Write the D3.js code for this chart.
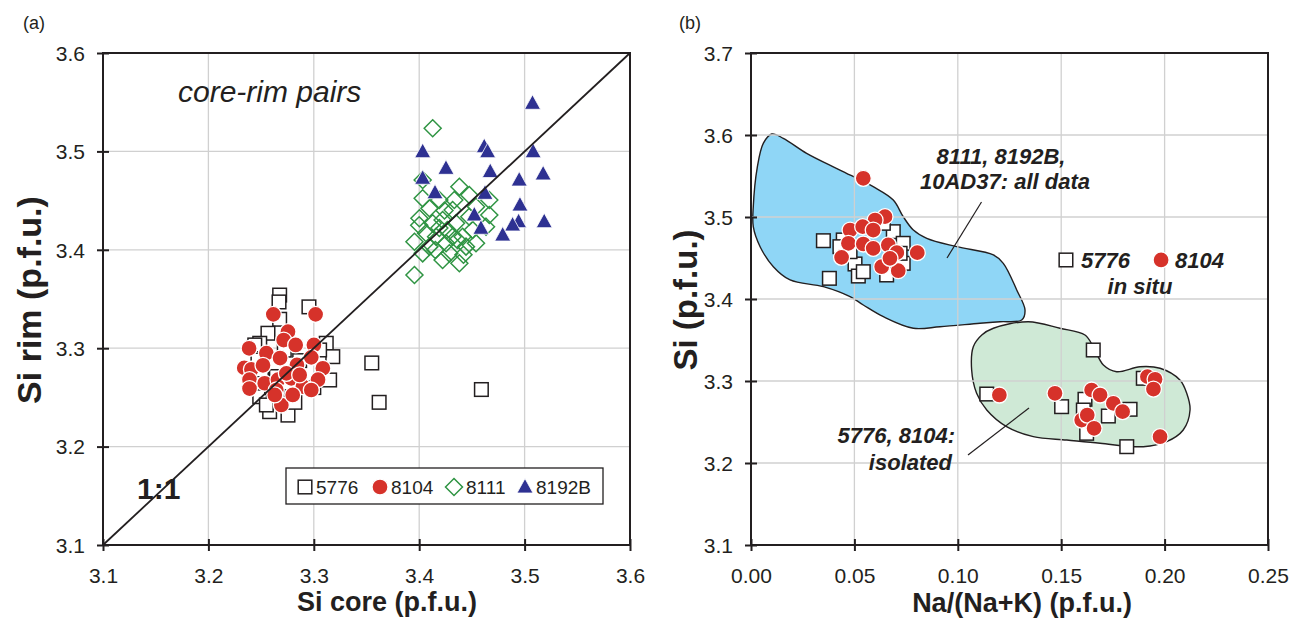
<!DOCTYPE html>
<html><head><meta charset="utf-8">
<script src="https://cdn.jsdelivr.net/npm/d3@7"></script>
<style>
html,body{margin:0;padding:0;background:#fff;}
svg text{font-family:"Liberation Sans",Arial,sans-serif;fill:#231f20;}
svg .tick text{font-size:21px;}
</style></head>
<body><svg id="c" width="1304" height="624"></svg>
<script>
// ---------- Panel (a) data: [Si core, Si rim] ----------
const a5776 = [[3.2676,3.354],[3.267,3.347],[3.2954,3.342],[3.2676,3.3294],[3.2565,3.3152],[3.2487,3.305],
 [3.3118,3.305],[3.318,3.2914],[3.315,3.2677],[3.2581,3.2355],[3.2755,3.232],[3.2487,3.2507],[3.255,3.2423],
 [3.244,3.3033],[3.2786,3.2507],[3.3055,3.2982],[3.2866,3.2874],[3.2503,3.2779],[3.2645,3.2712],[3.2470,3.2880],
 [3.2720,3.2980],[3.3000,3.2600],[3.2600,3.2600],[3.2820,3.2450],
 [3.355,3.285],[3.362,3.245],[3.459,3.258]];
const a8104 = [[3.2616,3.3344],[3.3017,3.3344],[3.2755,3.3168],[3.2714,3.3083],[3.2828,3.3033],[3.2386,3.2999],
 [3.3001,3.3033],[3.255,3.295],[3.268,3.290],[3.2976,3.2907],[3.234,3.280],[3.2408,3.2786],[3.2518,3.2826],
 [3.284,3.283],[3.3086,3.2796],[3.239,3.268],[3.2534,3.2644],[3.266,3.268],[3.2786,3.2694],[3.304,3.268],
 [3.2897,3.261],[3.239,3.259],[3.2644,3.2575],[3.2976,3.2575],[3.2692,3.2423],[3.263,3.2525],[3.280,3.2525],
 [3.274,3.2744],[3.2866,3.2728]];
const a8111 = [[3.4128,3.5235],[3.3955,3.3744],[3.4381,3.4641],[3.4665,3.4506],[3.4665,3.4354],[3.4033,3.4523],
 [3.4097,3.4422],[3.4002,3.4320],[3.3955,3.4082],[3.4191,3.4506],[3.4317,3.4405],[3.4222,3.4303],[3.4349,3.4269],
 [3.4475,3.4336],[3.4507,3.4201],[3.4444,3.4032],[3.4381,3.3863],[3.4222,3.3896],[3.4097,3.4032],[3.4065,3.4168],
 [3.4160,3.4133],[3.4255,3.4066],[3.4317,3.4133],[3.4412,3.4133],[3.4286,3.3964],[3.4033,3.3964],[3.4128,3.4269],
 [3.4539,3.4066],[3.4539,3.4438],[3.4634,3.4235],[3.4033,3.4709],[3.4267,3.4201],[3.4191,3.4222],[3.4362,3.4100],
 [3.4153,3.3998],[3.4333,3.4506],[3.4475,3.4557],[3.4000,3.4250],[3.4420,3.3950],[3.4240,3.4400]];
const a8192B = [[3.5075,3.5489],[3.4033,3.4997],[3.4617,3.5048],[3.4649,3.4997],[3.5081,3.4997],[3.4254,3.4828],
 [3.4674,3.4795],[3.4033,3.4727],[3.5176,3.4771],[3.4949,3.4709],[3.415,3.458],[3.4624,3.4574],[3.4956,3.4455],
 [3.4523,3.4354],[3.4943,3.4286],[3.4886,3.4252],[3.5186,3.4286],[3.4586,3.4219],[3.4792,3.415]];
const aTicks = [3.1,3.2,3.3,3.4,3.5,3.6];
const legendItems = [["5776","square"],["8104","circle"],["8111","diamond"],["8192B","triangle"]];

// ---------- Panel (b) data: [Na/(Na+K), Si] ----------
const blueField = [[0.0011,3.5126],[0.0030,3.5600],[0.0060,3.5900],[0.0100,3.6012],[0.0156,3.5960],[0.0269,3.5777],
 [0.0430,3.5573],[0.0591,3.5370],[0.0688,3.5207],[0.0736,3.5004],[0.0785,3.4841],[0.0850,3.4740],[0.0995,3.4638],
 [0.1172,3.4537],[0.1220,3.4435],[0.1285,3.4110],[0.1325,3.3866],[0.1309,3.3744],[0.1204,3.3723],[0.1107,3.3704],
 [0.0914,3.3662],[0.0785,3.3643],[0.0640,3.3784],[0.0543,3.3927],[0.0479,3.4028],[0.0350,3.4150],[0.0189,3.4232],
 [0.0108,3.4394],[0.0044,3.4638],[0.0011,3.4882]];
const greenField = [[0.1172,3.3643],[0.1341,3.3723],[0.1494,3.3643],[0.1615,3.3561],[0.1655,3.3418],[0.1704,3.3195],
 [0.1768,3.3113],[0.1881,3.3174],[0.1978,3.3155],[0.2074,3.3012],[0.2107,3.2850],[0.2123,3.2646],[0.2090,3.2402],
 [0.2010,3.2260],[0.1897,3.2199],[0.1688,3.2240],[0.1527,3.2280],[0.1365,3.2321],[0.1236,3.2443],[0.1140,3.2646],
 [0.1091,3.2850],[0.1067,3.3134],[0.1075,3.3418],[0.1116,3.3561]];
const b5776 = [[0.0350,3.4711],[0.0379,3.4252],[0.0446,3.4720],[0.0503,3.4427],[0.0519,3.4280],[0.0543,3.4333],
 [0.0656,3.4293],[0.0688,3.4821],[0.0736,3.4679],[0.0736,3.4435],[0.0640,3.4923],[0.0430,3.4638],[0.0479,3.4577],
 [0.0721,3.4557],
 [0.1655,3.3378],[0.1140,3.2841],[0.1502,3.2687],[0.1615,3.2777],[0.1607,3.2646],[0.1623,3.2362],[0.1728,3.2573],
 [0.1833,3.2655],[0.1817,3.2199],[0.1897,3.3033]];
const b8104 = [[0.0543,3.5472],[0.0648,3.5004],[0.0600,3.4963],[0.0479,3.4841],[0.0540,3.4882],[0.0591,3.4841],
 [0.0471,3.4679],[0.0543,3.4671],[0.0591,3.4618],[0.0664,3.4659],[0.0705,3.4565],[0.0438,3.4508],[0.0632,3.4394],
 [0.0712,3.4345],[0.0804,3.4565],[0.0672,3.4496],
 [0.1201,3.2829],[0.1470,3.2850],[0.1647,3.2890],[0.1688,3.2829],[0.1752,3.2728],[0.1797,3.2626],[0.1599,3.2524],
 [0.1626,3.2585],[0.1659,3.2423],[0.1917,3.3053],[0.1954,3.3021],[0.1946,3.2902],[0.1978,3.2321]];
const bInSitu5776 = [[0.1523,3.4476]];
const bInSitu8104 = [[0.1983,3.4476]];
const bxTicks = [0,0.05,0.10,0.15,0.20,0.25];
const byTicks = [3.1,3.2,3.3,3.4,3.5,3.6,3.7];

// ---------- drawing ----------
const svg = d3.select("#c");
const C = {red:"#d6322a", navy:"#2e3192", green:"#2f9443", blue:"#8fd6f6", mint:"#cfe9d6", grid:"#d0d0d0", ink:"#231f20"};

function marker(g, type, x, y){
  if(type==="square"){
    g.append("rect").attr("x",x-6.8).attr("y",y-6.8).attr("width",13.6).attr("height",13.6)
     .attr("fill","#fff").attr("stroke",C.ink).attr("stroke-width",1.5);
  } else if(type==="circle"){
    g.append("circle").attr("cx",x).attr("cy",y).attr("r",8)
     .attr("fill",C.red).attr("stroke","#fff").attr("stroke-width",1.3);
  } else if(type==="diamond"){
    const s=8.5;
    g.append("path").attr("d",`M${x},${y-s}L${x+s},${y}L${x},${y+s}L${x-s},${y}Z`)
     .attr("fill","none").attr("stroke",C.green).attr("stroke-width",1.5);
  } else if(type==="triangle"){
    g.append("path").attr("d",`M${x},${y-8.5}L${x+8},${y+6}L${x-8},${y+6}Z`)
     .attr("fill",C.navy).attr("stroke","#fff").attr("stroke-width",0.8);
  }
}

function grid(g, x, y, xt, yt, L, R, T, B){
  g.append("g").selectAll("line").data(xt.slice(1,-1)).join("line")
    .attr("x1",d=>x(d)).attr("x2",d=>x(d)).attr("y1",T).attr("y2",B).attr("stroke",C.grid).attr("stroke-width",1.3);
  g.append("g").selectAll("line").data(yt.slice(1,-1)).join("line")
    .attr("y1",d=>y(d)).attr("y2",d=>y(d)).attr("x1",L).attr("x2",R).attr("stroke",C.grid).attr("stroke-width",1.3);
}
function axes(g, x, y, xt, yt, L, R, T, B, fmtX, fmtY){
  g.append("rect").attr("x",L).attr("y",T).attr("width",R-L).attr("height",B-T)
    .attr("fill","none").attr("stroke",C.ink).attr("stroke-width",2);
  const axB = g.append("g").attr("transform",`translate(0,${B})`)
    .call(d3.axisBottom(x).tickValues(xt).tickFormat(fmtX).tickSize(6).tickPadding(17));
  const axL = g.append("g").attr("transform",`translate(${L},0)`)
    .call(d3.axisLeft(y).tickValues(yt).tickFormat(fmtY).tickSize(6).tickPadding(12));
  [axB,axL].forEach(a=>{
    a.attr("font-size",21).attr("font-family","Liberation Sans, Arial, sans-serif");
    a.select(".domain").remove();
    a.selectAll(".tick text").attr("fill",C.ink).style("font-size","21px");
  });
  axB.selectAll(".tick line").attr("y1",-6).attr("y2",6).attr("stroke",C.ink).attr("stroke-width",2);
  axL.selectAll(".tick line").attr("x1",-6).attr("x2",6).attr("stroke",C.ink).attr("stroke-width",2);
  axL.selectAll(".tick text").attr("dy","0.35em");
}

// ----- Panel (a) -----
const La=103, Ra=630, Ta=53, Ba=545;
const xa = d3.scaleLinear().domain([3.1,3.6]).range([La,Ra]);
const ya = d3.scaleLinear().domain([3.1,3.6]).range([Ba,Ta]);
const ga = svg.append("g");
grid(ga, xa, ya, aTicks, aTicks, La, Ra, Ta, Ba);
const pa = ga.append("g");
a5776.forEach(d=>marker(pa,"square",xa(d[0]),ya(d[1])));
a8104.forEach(d=>marker(pa,"circle",xa(d[0]),ya(d[1])));
a8111.forEach(d=>marker(pa,"diamond",xa(d[0]),ya(d[1])));
a8192B.forEach(d=>marker(pa,"triangle",xa(d[0]),ya(d[1])));
ga.append("line").attr("x1",xa(3.1)).attr("y1",ya(3.1)).attr("x2",xa(3.6)).attr("y2",ya(3.6))
  .attr("stroke",C.ink).attr("stroke-width",1.8);
axes(ga, xa, ya, aTicks, aTicks, La, Ra, Ta, Ba, d3.format(".1f"), d3.format(".1f"));
ga.append("text").attr("x",178).attr("y",102).attr("font-size",30).attr("font-style","italic").text("core-rim pairs");
ga.append("text").attr("x",137).attr("y",499).attr("font-size",30).attr("font-weight","bold").text("1:1");
// legend
const lg = ga.append("g");
lg.append("rect").attr("x",286).attr("y",468).attr("width",317).attr("height",36).attr("fill","#fff")
  .attr("stroke",C.ink).attr("stroke-width",1.3);
const lx = [305, 380, 454, 525];
legendItems.forEach((it,i)=>{
  marker(lg, it[1], lx[i], 487);
  lg.append("text").attr("x",lx[i]+(it[1]==="diamond"?12:11)).attr("y",494).attr("font-size",19).text(it[0]);
});
ga.append("text").attr("x",387).attr("y",611).attr("text-anchor","middle").attr("font-size",27).attr("font-weight","bold").text("Si core (p.f.u.)");
ga.append("text").attr("transform","translate(41,300) rotate(-90)").attr("text-anchor","middle").attr("font-size",34).attr("font-weight","bold").text("Si rim (p.f.u.)");
ga.append("text").attr("x",23).attr("y",29).attr("font-size",18).text("(a)");

// ----- Panel (b) -----
const Lb=751, Rb=1268, Tb=53, Bb=545;
const xb = d3.scaleLinear().domain([0,0.25]).range([Lb,Rb]);
const yb = d3.scaleLinear().domain([3.1,3.7]).range([Bb,Tb]);
const gb = svg.append("g");
const line = d3.line().x(d=>xb(d[0])).y(d=>yb(d[1])).curve(d3.curveCatmullRomClosed.alpha(0.5));
gb.append("path").attr("d",line(blueField)).attr("fill",C.blue).attr("stroke",C.ink).attr("stroke-width",1.4);
gb.append("path").attr("d",line(greenField)).attr("fill",C.mint).attr("stroke",C.ink).attr("stroke-width",1.4);
grid(gb, xb, yb, bxTicks, byTicks, Lb, Rb, Tb, Bb);
const pb = gb.append("g");
b5776.forEach(d=>marker(pb,"square",xb(d[0]),yb(d[1])));
b8104.forEach(d=>marker(pb,"circle",xb(d[0]),yb(d[1])));
bInSitu5776.forEach(d=>marker(pb,"square",xb(d[0]),yb(d[1])));
bInSitu8104.forEach(d=>marker(pb,"circle",xb(d[0]),yb(d[1])));
axes(gb, xb, yb, bxTicks, byTicks, Lb, Rb, Tb, Bb, d3.format(".2f"), d3.format(".1f"));
// annotations
const ann = gb.append("g").attr("font-weight","bold").attr("font-style","italic").attr("font-size",22);
ann.append("text").attr("x",1001).attr("y",164).attr("text-anchor","middle").text("8111, 8192B,");
ann.append("text").attr("x",1005).attr("y",189).attr("text-anchor","middle").text("10AD37: all data");
gb.append("line").attr("x1",981.5).attr("y1",202).attr("x2",947).attr("y2",258).attr("stroke",C.ink).attr("stroke-width",1.2);
ann.append("text").attr("x",1081).attr("y",268).text("5776");
ann.append("text").attr("x",1175).attr("y",268).text("8104");
ann.append("text").attr("x",1140).attr("y",294).attr("text-anchor","middle").text("in situ");
ann.append("text").attr("x",955).attr("y",443).attr("text-anchor","end").text("5776, 8104:");
ann.append("text").attr("x",952).attr("y",470).attr("text-anchor","end").text("isolated");
gb.append("line").attr("x1",968).attr("y1",455).attr("x2",1029).attr("y2",408).attr("stroke",C.ink).attr("stroke-width",1.2);
gb.append("text").attr("x",1022).attr("y",612).attr("text-anchor","middle").attr("font-size",27).attr("font-weight","bold").text("Na/(Na+K) (p.f.u.)");
gb.append("text").attr("transform","translate(697,300) rotate(-90)").attr("text-anchor","middle").attr("font-size",33).attr("font-weight","bold").text("Si (p.f.u.)");
gb.append("text").attr("x",679).attr("y",29).attr("font-size",18).text("(b)");
</script></body></html>
